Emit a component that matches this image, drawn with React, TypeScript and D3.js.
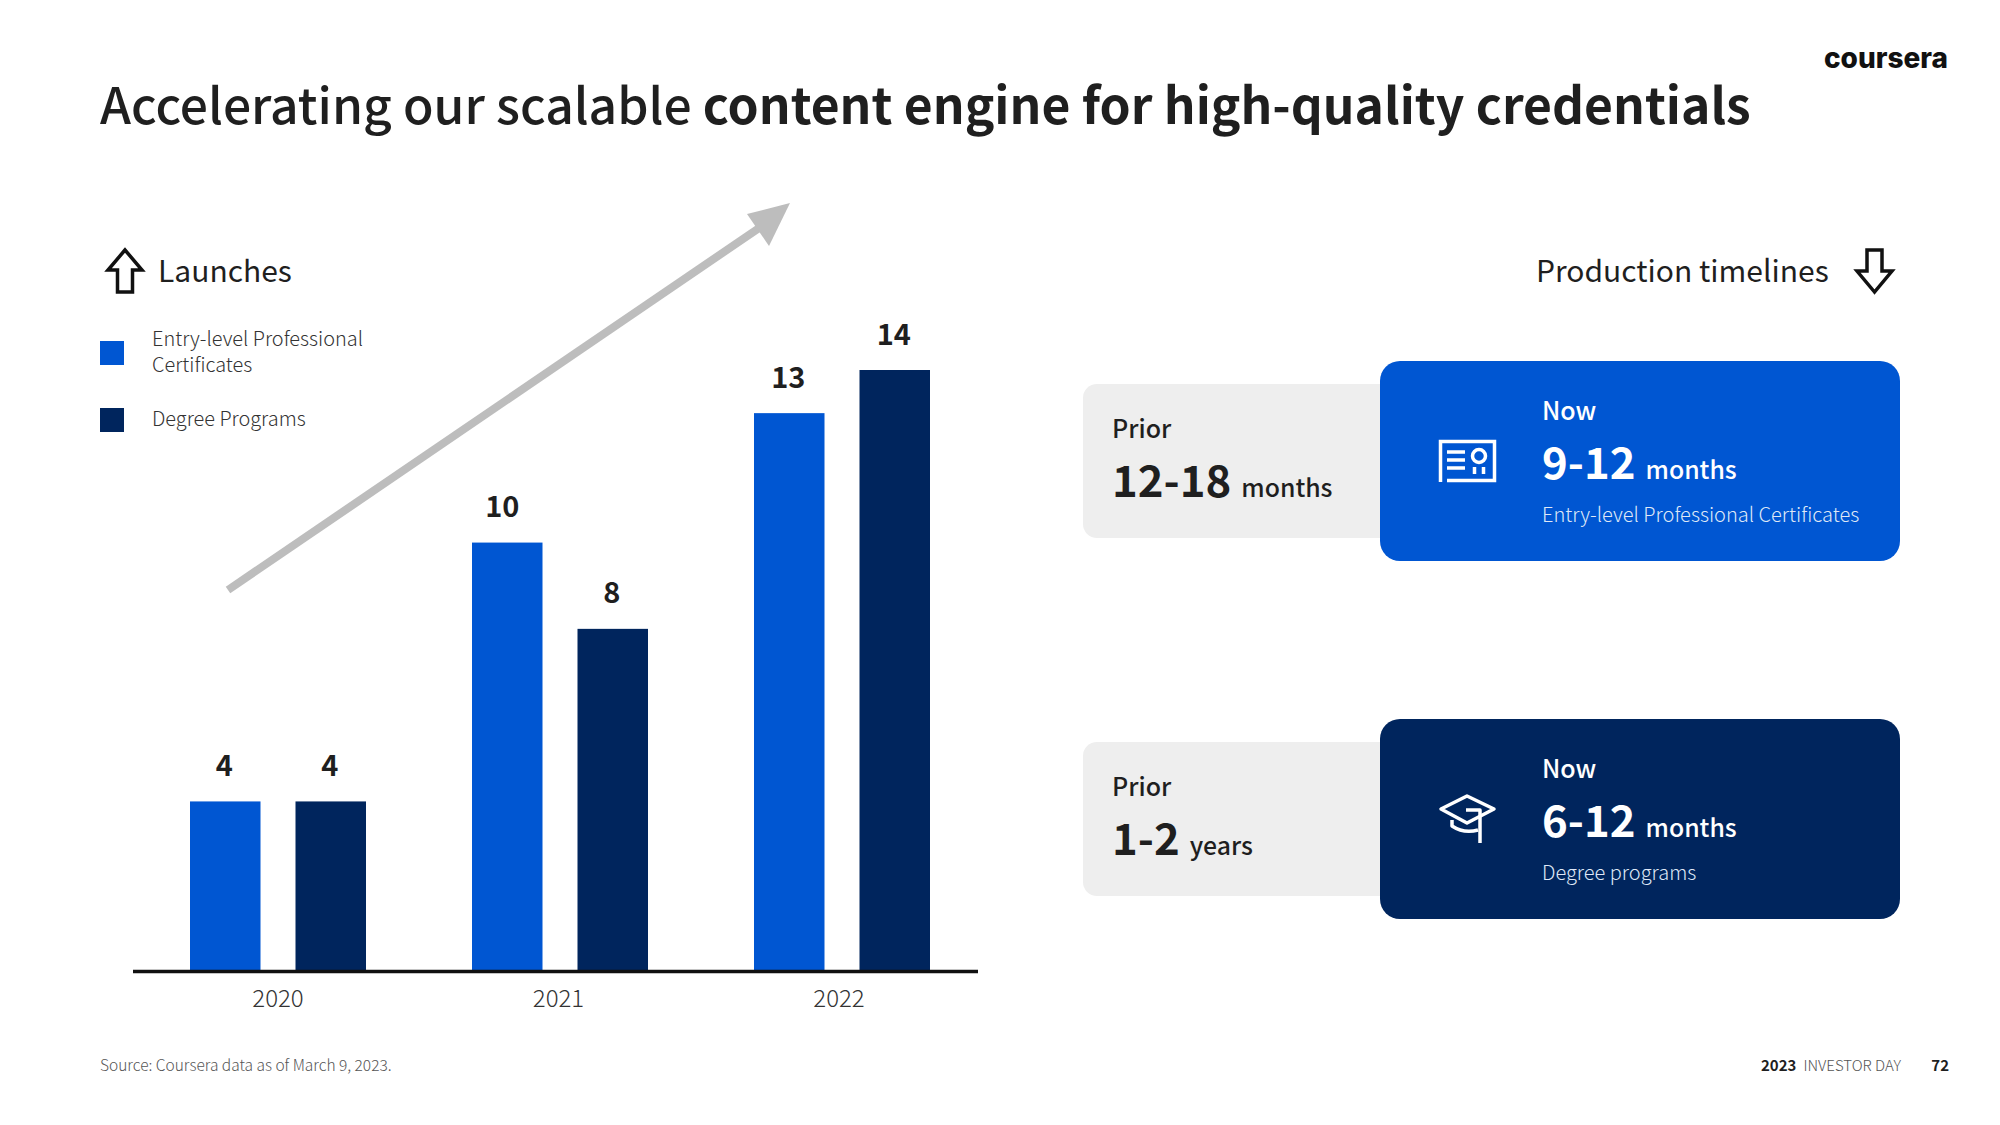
import React from "react";
import * as d3 from "d3";

const years = ["2020", "2021", "2022"];
const entryLevel = [4, 10, 13];
const degree = [4, 8, 14];
const titleLight = "Accelerating our scalable ";
const titleBold = "content engine for high-quality credentials";
const BLUE = "#0056d2";
const NAVY = "#00255d";
const FONT = "'Noto Sans CJK JP','Noto Sans',sans-serif";

const BASE = 970;
const y = d3.scaleLinear().domain([0, 14]).range([974, 370]);
const xTick = d3.scalePoint().domain(years).range([278, 839]);
const xBar = d3.scalePoint().domain(years).range([190, 754]);
const BW = 70.5;
const PAIR_STEP = 105.5;

const Card = ({ top, color, prior, priorUnit, now, nowUnit, desc, icon }: any) => (
  <g>
    <rect x={1083} y={top + 23} width={340} height={154} rx={14} fill="#eeeeee" />
    <text x={1112} y={top + 77} fontSize={25} fontWeight={500} fill="#1f1f1f">Prior</text>
    <text x={1112} y={top + 136} fontSize={43.7} fontWeight={700} fill="#1f1f1f">
      {prior}<tspan fontSize={24.8} fontWeight={500} dx={10}>{priorUnit}</tspan>
    </text>
    <rect x={1380} y={top} width={520} height={200} rx={20} fill={color} />
    <text x={1542} y={top + 59} fontSize={25} fontWeight={500} fill="#fff">Now</text>
    <text x={1542} y={top + 118} fontSize={43.7} fontWeight={700} fill="#fff">
      {now}<tspan fontSize={24.8} fontWeight={500} dx={10}>{nowUnit}</tspan>
    </text>
    <text x={1542} y={top + 161} fontSize={20} fontWeight={300} fill="#dfe8f7">{desc}</text>
    {icon}
  </g>
);

export default function App() {
  return (
    <svg width={2000} height={1125} style={{ position: "absolute", left: 0, top: 0, background: "#fff" }} fontFamily={FONT}>
      <text x={100} y={124} fontSize={49.8} fontWeight={500} fill="#1f1f1f">
        {titleLight}<tspan fontWeight={700}>{titleBold}</tspan>
      </text>
      <text x={1948} y={68} fontSize={28} fontWeight={800} textAnchor="end" fontFamily="Inter, sans-serif" fill="#111" letterSpacing={0}>coursera</text>

      <path d="M125 250 L108 270 H117.5 V292 H132.5 V270 H142 Z" fill="none" stroke="#111" strokeWidth={3.5} />
      <text x={158} y={282} fontSize={30} fill="#1f1f1f">Launches</text>

      <rect x={100} y={341} width={24} height={24} fill={BLUE} />
      <text x={152} y={346} fontSize={19.9} fontWeight={300} fill="#333">Entry-level Professional</text>
      <text x={152} y={372} fontSize={19.9} fontWeight={300} fill="#333">Certificates</text>
      <rect x={100} y={408} width={24} height={24} fill={NAVY} />
      <text x={152} y={426} fontSize={19.9} fontWeight={300} fill="#333">Degree Programs</text>

      <line x1={228} y1={590} x2={762} y2={226} stroke="#bdbdbd" strokeWidth={8} />
      <path d="M790 203 L747 214 L769 246 Z" fill="#bdbdbd" />

      {years.map((yr, i) => {
        const x1 = xBar(yr) as number;
        const x2 = x1 + PAIR_STEP;
        return (
          <g key={yr}>
            <rect x={x1} y={y(entryLevel[i])} width={BW} height={BASE - y(entryLevel[i])} fill={BLUE} />
            <rect x={x2} y={y(degree[i])} width={BW} height={BASE - y(degree[i])} fill={NAVY} />
            <text x={x1 + BW / 2 - (i === 1 ? 5 : 1)} y={y(entryLevel[i]) - 25.5} fontSize={29} fontWeight={700} textAnchor="middle" fill="#1f1f1f">{entryLevel[i]}</text>
            <text x={x2 + BW / 2 - 1} y={y(degree[i]) - 25.5} fontSize={29} fontWeight={700} textAnchor="middle" fill="#1f1f1f">{degree[i]}</text>
            <text x={xTick(yr)} y={1007} fontSize={24} fontWeight={300} textAnchor="middle" fill="#333">{yr}</text>
          </g>
        );
      })}
      <line x1={133} x2={978} y1={971.5} y2={971.5} stroke="#111" strokeWidth={3.5} />

      <text x={1536} y={282} fontSize={30} fill="#1f1f1f">Production timelines</text>
      <path d="M1874.5 292 L1857 271 H1867 V250 H1882 V271 H1892 Z" fill="none" stroke="#111" strokeWidth={3.5} />

      <Card top={361} color={BLUE} prior="12-18" priorUnit="months" now="9-12" nowUnit="months" desc="Entry-level Professional Certificates"
        icon={<g fill="none" stroke="#fff" strokeWidth={3.5}>
          <path d="M1440.5 482 V441.5 H1494.5 V480.5 H1447" />
          <path d="M1447 452h18M1447 460h18M1447 468h18" />
          <circle cx={1479} cy={456} r={6.5} />
          <path d="M1474.5 467v7M1483.5 467v7" />
        </g>} />
      <Card top={719} color={NAVY} prior="1-2" priorUnit="years" now="6-12" nowUnit="months" desc="Degree programs"
        icon={<g fill="none" stroke="#fff" strokeWidth={3.5} strokeLinejoin="round">
          <path d="M1467 796 L1441 809 L1467 823 L1494 809 Z" />
          <path d="M1466 810 H1480 V843" />
          <path d="M1452 820 V826 Q1464 834 1478 830" />
        </g>} />

      <text x={100} y={1071} fontSize={15.5} fontWeight={300} fill="#555">Source: Coursera data as of March 9, 2023.</text>
      <text x={1761} y={1071} fontSize={15} fontWeight={700} fill="#1f1f1f">2023<tspan fontWeight={300} dx={7} fill="#555">INVESTOR DAY</tspan></text>
      <text x={1949} y={1071} fontSize={15} fontWeight={700} textAnchor="end" fill="#1f1f1f">72</text>
    </svg>
  );
}
